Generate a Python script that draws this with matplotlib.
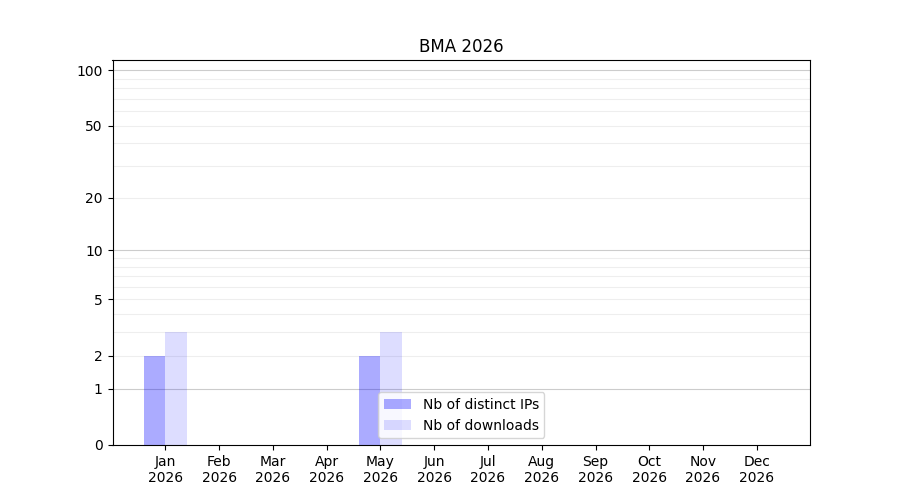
import numpy as np
import matplotlib
matplotlib.use("Agg")
import matplotlib.pyplot as plt

months = ["Jan", "Feb", "Mar", "Apr", "May", "Jun", "Jul", "Aug", "Sep", "Oct", "Nov", "Dec"]
year = "2026"
distinct_ips = [2, 0, 0, 0, 2, 0, 0, 0, 0, 0, 0, 0]
downloads = [3, 0, 0, 0, 3, 0, 0, 0, 0, 0, 0, 0]
ytick_vals = [0, 1, 2, 5, 10, 20, 50, 100]
major_grid = [1, 10, 100]
minor_grid = [2, 3, 4, 5, 6, 7, 8, 9, 20, 30, 40, 50, 60, 70, 80, 90]

fig, ax = plt.subplots(figsize=(9, 5), dpi=100)

ax.set_yscale("function", functions=(lambda v: np.log10(1 + np.asarray(v)),
                                     lambda v: 10 ** np.asarray(v) - 1))

x = np.arange(len(months))
w = 0.4
ax.bar(x - w / 2, distinct_ips, width=w, color="blue", alpha=0.33, linewidth=0,
       label="Nb of distinct IPs", zorder=2)
ax.bar(x + w / 2, downloads, width=w, color="blue", alpha=0.135, linewidth=0,
       label="Nb of downloads", zorder=2)

for v in minor_grid:
    ax.axhline(v, color="#eeeeee", linewidth=0.8, zorder=1)
for v in major_grid:
    ax.axhline(v, color="#cccccc", linewidth=0.8, zorder=1)

ax.set_ylim(0, 113.5)
ax.set_xlim(-0.985, 11.99)
ax.set_yticks(ytick_vals)
ax.set_yticklabels([str(v) for v in ytick_vals])
ax.yaxis.set_minor_locator(matplotlib.ticker.NullLocator())
ax.set_xticks(x)
ax.set_xticklabels([f"{m}\n{year}" for m in months])
ax.set_title("BMA 2026")
ax.legend(loc="lower center")

fig.savefig("out.png")
